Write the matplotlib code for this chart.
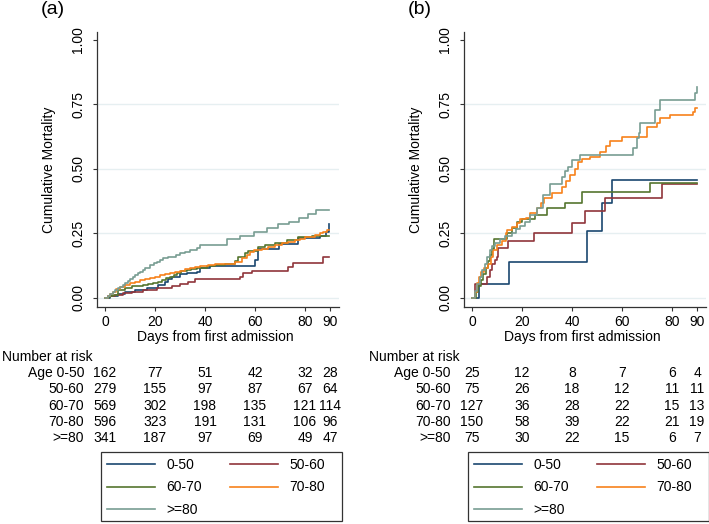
import matplotlib
matplotlib.use("Agg")
import matplotlib.pyplot as plt
from matplotlib import transforms
from matplotlib.lines import Line2D
from matplotlib.patches import Rectangle

plt.rcParams['font.family'] = ['Liberation Sans', 'DejaVu Sans']
plt.rcParams['font.size'] = 10

# ---------------------------------------------------------
# Data (step curves, days -> cumulative mortality)
# ---------------------------------------------------------
groups = ["0-50", "50-60", "60-70", "70-80", ">=80"]
colors = ["#1a476f", "#90353b", "#55752f", "#f7821b", "#789d92"]

# panel (a)
a_t_050 = [0, 2, 5, 8, 12, 16.7, 21.3, 24, 25.3, 26.7, 30, 32.7, 36.7, 38, 42, 60, 61, 69.6, 77, 86, 88.5, 89.5]
a_v_050 = [0, 0.006, 0.014, 0.025, 0.031, 0.037, 0.05, 0.063, 0.072, 0.083, 0.092, 0.096, 0.102, 0.118, 0.124,
           0.147, 0.19, 0.21, 0.231, 0.24, 0.256, 0.287]
a_t_5060 = [0, 1.3, 4, 7, 10.7, 15.3, 20.7, 26.7, 30, 33, 36, 54, 55.3, 58.7, 73.3, 75.3, 87.3, 89.5]
a_v_5060 = [0, 0.006, 0.012, 0.018, 0.025, 0.031, 0.037, 0.046, 0.053, 0.061, 0.074, 0.083, 0.096, 0.105,
            0.119, 0.134, 0.16, 0.16]
a_t_6070 = [0, 1, 2, 3.3, 5.3, 8, 10.7, 15.3, 17.3, 19.3, 21, 22.7, 24.5, 26, 27.5, 28.7, 30.5, 32.7, 34.5,
            36.7, 40.7, 44, 48, 52, 53.3, 56, 57.3, 61.3, 64, 68, 72.7, 77.3, 82.7, 89.5]
a_v_6070 = [0, 0.004, 0.008, 0.012, 0.031, 0.04, 0.048, 0.05, 0.053, 0.057, 0.063, 0.07, 0.077, 0.083, 0.09,
            0.096, 0.103, 0.109, 0.114, 0.118, 0.124, 0.128, 0.132, 0.145, 0.157, 0.173, 0.184, 0.196, 0.205,
            0.214, 0.225, 0.235, 0.24, 0.24]
a_t_7080 = [0, 1, 2, 3.3, 4.5, 6, 8, 10, 12, 14, 16, 18, 20, 22, 24, 26, 28, 30, 32, 34, 36, 38, 41, 44, 52,
            54.7, 56.7, 58, 59.5, 62.7, 65, 68, 70.7, 73, 76, 78, 80, 82, 84, 86, 87.3, 88.7, 89.5]
a_v_7080 = [0, 0.008, 0.016, 0.025, 0.035, 0.044, 0.05, 0.057, 0.063, 0.07, 0.073, 0.076, 0.082, 0.089, 0.092,
            0.096, 0.101, 0.106, 0.112, 0.118, 0.121, 0.125, 0.128, 0.132, 0.14, 0.154, 0.167, 0.18, 0.186,
            0.19, 0.196, 0.205, 0.212, 0.218, 0.225, 0.23, 0.235, 0.238, 0.244, 0.25, 0.257, 0.264, 0.264]
a_t_80 = [0, 1, 2, 3, 4, 5, 6, 7, 8, 9, 10, 11, 12, 13, 14, 15, 16, 18, 19.5, 20.7, 22, 23.3, 25, 26.7, 28.5,
          30, 32, 34, 36.7, 38, 48.7, 54, 59.7, 64.7, 69.3, 73.6, 77.5, 81.3, 84.3, 89.5]
a_v_80 = [0, 0.008, 0.016, 0.024, 0.031, 0.038, 0.044, 0.05, 0.057, 0.066, 0.073, 0.081, 0.089, 0.095, 0.102,
          0.109, 0.117, 0.128, 0.134, 0.141, 0.147, 0.154, 0.157, 0.16, 0.167, 0.173, 0.18, 0.186, 0.193, 0.205,
          0.227, 0.242, 0.257, 0.27, 0.285, 0.296, 0.31, 0.326, 0.341, 0.341]

# panel (b)
b_t_050 = [0, 2.8, 14.9, 45.9, 52.1, 56.1, 90]
b_v_050 = [0, 0.054, 0.139, 0.261, 0.367, 0.457, 0.457]
b_t_5060 = [0, 1, 6, 7, 8, 9, 9.9, 10.5, 14.3, 24.9, 40.1, 45.2, 53.2, 75.9, 90]
b_v_5060 = [0, 0.053, 0.08, 0.107, 0.133, 0.147, 0.16, 0.193, 0.221, 0.251, 0.292, 0.338, 0.386, 0.442, 0.442]
b_t_6070 = [0, 1.6, 2.5, 3.5, 4.5, 5.5, 6.5, 7, 7.8, 8.9, 14, 16, 18, 20, 25.2, 29.9, 37.2, 43.9, 71.2, 90]
b_v_6070 = [0, 0.024, 0.047, 0.071, 0.094, 0.118, 0.142, 0.165, 0.189, 0.228, 0.25, 0.272, 0.295, 0.305, 0.32,
            0.347, 0.367, 0.412, 0.444, 0.444]
b_t_7080 = [0, 1, 1.9, 2.8, 3.6, 4.9, 6.5, 7.6, 8.5, 9.9, 11.9, 13.5, 14.1, 15.9, 17.9, 19.2, 21.5, 23.2, 25.9,
            27.5, 28.8, 31.9, 35.9, 37.5, 39.2, 41, 42.5, 43.9, 47.3, 51, 53.6, 55, 60, 69.9, 73.9, 75.3, 79.3,
            88.5, 89.2, 90]
b_v_7080 = [0, 0.025, 0.057, 0.083, 0.102, 0.115, 0.13, 0.16, 0.186, 0.205, 0.22, 0.251, 0.264, 0.276, 0.292,
            0.305, 0.31, 0.328, 0.347, 0.37, 0.386, 0.406, 0.431, 0.455, 0.477, 0.5, 0.528, 0.537, 0.548, 0.567,
            0.589, 0.608, 0.625, 0.663, 0.678, 0.698, 0.709, 0.722, 0.736, 0.736]
b_t_80 = [0, 1.2, 2, 3, 4, 5, 6, 7, 8, 9, 11, 13, 16, 17.5, 19, 21, 23, 26, 28.5, 31, 36, 37.2, 38.5, 40, 43.2,
          64.5, 65.9, 66.6, 67.2, 73.2, 75.2, 89.2, 89.8, 90]
b_v_80 = [0, 0.027, 0.053, 0.08, 0.107, 0.133, 0.16, 0.187, 0.2, 0.213, 0.227, 0.24, 0.253, 0.267, 0.28, 0.293,
          0.32, 0.347, 0.4, 0.44, 0.467, 0.493, 0.507, 0.533, 0.553, 0.58, 0.62, 0.64, 0.68, 0.727, 0.767, 0.793,
          0.819, 0.819]

# number at risk tables
risk_days = [0, 20, 40, 60, 80, 90]
risk_labels = ["Age 0-50", "50-60", "60-70", "70-80", ">=80"]
a_risk = [[162, 77, 51, 42, 32, 28],
          [279, 155, 97, 87, 67, 64],
          [569, 302, 198, 135, 121, 114],
          [596, 323, 191, 131, 106, 96],
          [341, 187, 97, 69, 49, 47]]
b_risk = [[25, 12, 8, 7, 6, 4],
          [75, 26, 18, 12, 11, 11],
          [127, 36, 28, 22, 15, 13],
          [150, 58, 39, 22, 21, 19],
          [75, 30, 22, 15, 6, 7]]

W, H = 709, 524
fig = plt.figure(figsize=(W / 100, H / 100), dpi=100)


def draw_panel(left_px, curves, risk, tag):
    ax = fig.add_axes([left_px / W, 1 - 307 / H, 242.5 / W, 275 / H])
    ax.set_xlim(-3.4, 93.6)
    ax.set_ylim(-0.035, 1.031)

    for y in [0, 0.25, 0.5, 0.75]:
        ax.axhline(y, color="#e6eff1", lw=1.0, zorder=0)

    for (t, v), c in zip(curves, colors):
        ax.step(t, v, where="post", color=c, lw=1.2)

    for s in ["top", "right"]:
        ax.spines[s].set_visible(False)
    for s in ["left", "bottom"]:
        ax.spines[s].set_color("#333333")
        ax.spines[s].set_linewidth(0.9)

    ax.set_xticks(risk_days)
    ax.set_yticks([0, 0.25, 0.5, 0.75, 1.0])
    ax.set_yticklabels(["0.00", "0.25", "0.50", "0.75", "1.00"])
    ax.tick_params(axis="both", length=3, width=0.8, color="#333333")
    ax.tick_params(axis="y", labelrotation=90, pad=5)
    ax.tick_params(axis="x", pad=3)
    for lab in ax.get_yticklabels():
        lab.set_va("center")

    ax.set_ylabel("Cumulative Mortality")
    ax.yaxis.set_label_coords(-0.165, 0.5)
    ax.set_xlabel("Days from first admission")
    ax.xaxis.set_label_coords(0.49, -0.085)

    # number at risk table
    tr = transforms.blended_transform_factory(ax.transData, fig.transFigure)
    fig.text((left_px - 94.5) / W, 1 - 357 / H, "Number at risk", ha="left", va="center")
    row_y = [373.3, 389.4, 405.5, 421.6, 437.7]
    for lab, vals, ypx in zip(risk_labels, risk, row_y):
        ax.text(-8.4, 1 - ypx / H, lab, transform=tr, ha="right", va="center")
        for d, n in zip(risk_days, vals):
            ax.text(d, 1 - ypx / H, str(n), transform=tr, ha="center", va="center")

    # legend (row-wise order, filled column-first by matplotlib), frame drawn separately
    box_l, box_t, box_w, box_h = left_px + 4.5, 452, 241, 69
    handles = [Line2D([], [], color=c, lw=1.2) for c in colors]
    order = [0, 2, 4, 1, 3]
    fig.legend([handles[i] for i in order], [groups[i] for i in order],
               ncol=2, loc="upper left",
               bbox_to_anchor=(box_l / W, 1 - box_t / H),
               bbox_transform=fig.transFigure, borderaxespad=0,
               handlelength=3.45, handletextpad=0.85, columnspacing=2.0,
               labelspacing=0.62, borderpad=0.42, frameon=False)
    fig.patches.append(Rectangle((box_l / W, 1 - (box_t + box_h) / H), box_w / W, box_h / H,
                                 transform=fig.transFigure, fill=False,
                                 edgecolor="#333333", lw=0.9))

    fig.text((left_px - 56) / W, 1 - 10 / H, tag, ha="left", va="center", fontsize=14)
    return ax


curves_a = [(a_t_050, a_v_050), (a_t_5060, a_v_5060), (a_t_6070, a_v_6070),
            (a_t_7080, a_v_7080), (a_t_80, a_v_80)]
curves_b = [(b_t_050, b_v_050), (b_t_5060, b_v_5060), (b_t_6070, b_v_6070),
            (b_t_7080, b_v_7080), (b_t_80, b_v_80)]

draw_panel(96.5, curves_a, a_risk, "(a)")
draw_panel(463.5, curves_b, b_risk, "(b)")

fig.savefig("out.png", dpi=100)
